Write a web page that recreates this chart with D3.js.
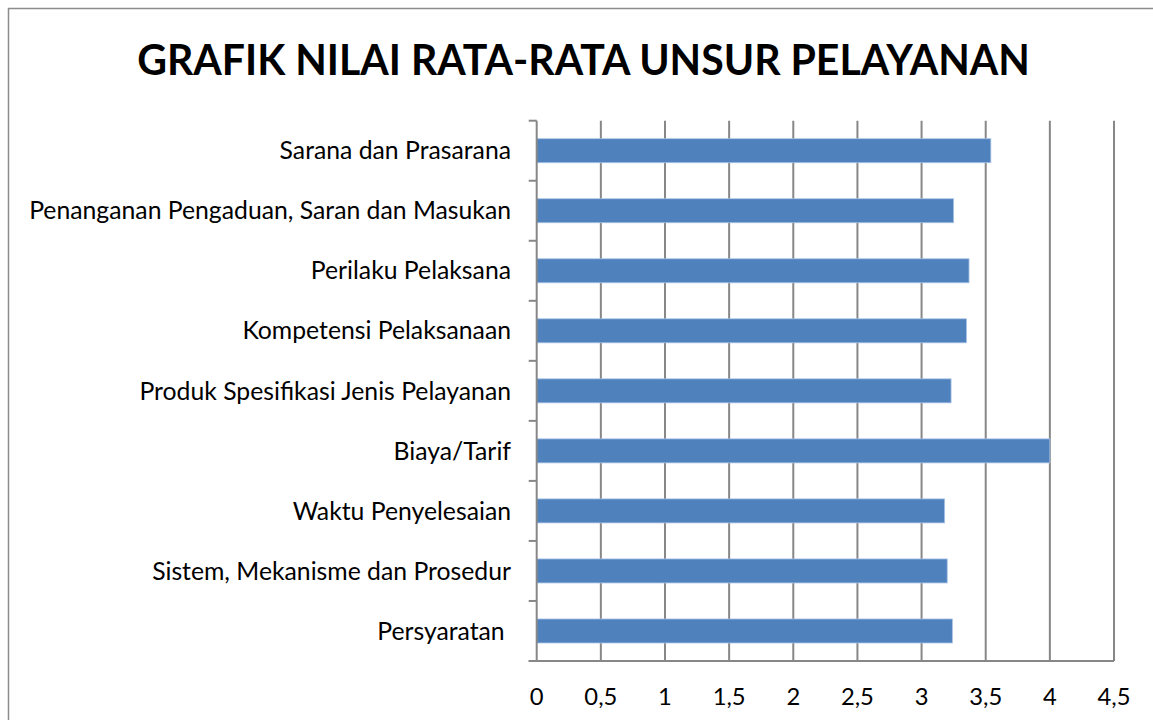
<!DOCTYPE html>
<html>
<head>
<meta charset="utf-8">
<script src="https://cdn.jsdelivr.net/npm/d3@7"></script>
<style>
  html, body { margin: 0; padding: 0; background: #fff; overflow: hidden; }
  svg { display: block; }
  text { font-family: Lato, "Open Sans", sans-serif; fill: #000; }
</style>
</head>
<body>
<svg id="chart" width="1153" height="720"></svg>
<script>
const categories = [
  "Sarana dan Prasarana",
  "Penanganan Pengaduan, Saran dan Masukan",
  "Perilaku Pelaksana",
  "Kompetensi Pelaksanaan",
  "Produk Spesifikasi Jenis Pelayanan",
  "Biaya/Tarif",
  "Waktu Penyelesaian",
  "Sistem, Mekanisme dan Prosedur",
  "Persyaratan "
];
const values = [3.54, 3.25, 3.37, 3.35, 3.23, 4.0, 3.18, 3.20, 3.24];
const tickValues = [0, 0.5, 1, 1.5, 2, 2.5, 3, 3.5, 4, 4.5];
const tickLabels = ["0", "0,5", "1", "1,5", "2", "2,5", "3", "3,5", "4", "4,5"];
const title = "GRAFIK NILAI RATA-RATA UNSUR PELAYANAN";

const svg = d3.select("#chart");
const W = 1153, H = 720;
const plot = { left: 536.7, right: 1114, top: 120.7, bottom: 661 };
const gridColor = "#878787";

// outer frame
svg.append("rect")
  .attr("x", 8.5).attr("y", 8.5)
  .attr("width", W + 20).attr("height", H + 20)
  .attr("fill", "none").attr("stroke", "#8c8c8c").attr("stroke-width", 1.5);

const x = d3.scaleLinear().domain([0, 4.5]).range([plot.left, plot.right]);
const y = d3.scaleBand().domain(categories).range([plot.top, plot.bottom]).paddingInner(0.6).paddingOuter(0.3);

// fit font sizes by measuring
function fitSize(str, weight, targetWidth) {
  const t = svg.append("text").attr("font-size", 100).attr("font-weight", weight).text(str);
  const w = t.node().getComputedTextLength();
  t.remove();
  return 100 * targetWidth / w;
}
const labelSize = fitSize("Penanganan Pengaduan, Saran dan Masukan", "normal", 482);
const tickSize = fitSize("0,5", "normal", 33);
const titleSize = fitSize(title, "bold", 893);

// gridlines
svg.append("g").selectAll("line").data(tickValues.slice(1)).join("line")
  .attr("x1", d => x(d)).attr("x2", d => x(d))
  .attr("y1", plot.top).attr("y2", plot.bottom)
  .attr("stroke", gridColor).attr("stroke-width", 2);

// bars
svg.append("g").selectAll("rect").data(categories).join("rect")
  .attr("x", x(0))
  .attr("y", d => y(d))
  .attr("width", (d, i) => x(values[i]) - x(0))
  .attr("height", y.bandwidth())
  .attr("fill", "#4F81BD")
  .attr("stroke", "#a9c4e6").attr("stroke-width", 0.8);

// y axis (category) with ticks at band boundaries
const bounds = d3.range(categories.length + 1).map(i => plot.top + i * (plot.bottom - plot.top) / categories.length);
const yAxisG = svg.append("g");
yAxisG.append("line")
  .attr("x1", plot.left).attr("x2", plot.left)
  .attr("y1", plot.top).attr("y2", plot.bottom)
  .attr("stroke", gridColor).attr("stroke-width", 2);
yAxisG.selectAll("line.tk").data(bounds).join("line").attr("class", "tk")
  .attr("x1", plot.left - 8).attr("x2", plot.left)
  .attr("y1", d => d).attr("y2", d => d)
  .attr("stroke", gridColor).attr("stroke-width", 2);
yAxisG.selectAll("text").data(categories).join("text")
  .attr("x", 511)
  .attr("y", d => y(d) + y.bandwidth() / 2)
  .attr("dy", "0.35em")
  .attr("text-anchor", "end")
  .attr("font-size", labelSize)
  .style("white-space", "pre")
  .attr("xml:space", "preserve")
  .text(d => d);

// x axis
const xAxisG = svg.append("g");
xAxisG.append("line")
  .attr("x1", plot.left - 8).attr("x2", plot.right)
  .attr("y1", plot.bottom).attr("y2", plot.bottom)
  .attr("stroke", gridColor).attr("stroke-width", 2);
xAxisG.selectAll("text").data(tickValues).join("text")
  .attr("x", d => x(d))
  .attr("y", 705)
  .attr("text-anchor", "middle")
  .attr("font-size", tickSize)
  .text((d, i) => tickLabels[i]);

// title
svg.append("text")
  .attr("x", (137 + 1030) / 2)
  .attr("y", 74.5)
  .attr("text-anchor", "middle")
  .attr("font-size", titleSize)
  .attr("font-weight", "bold")
  .text(title);
</script>
</body>
</html>
